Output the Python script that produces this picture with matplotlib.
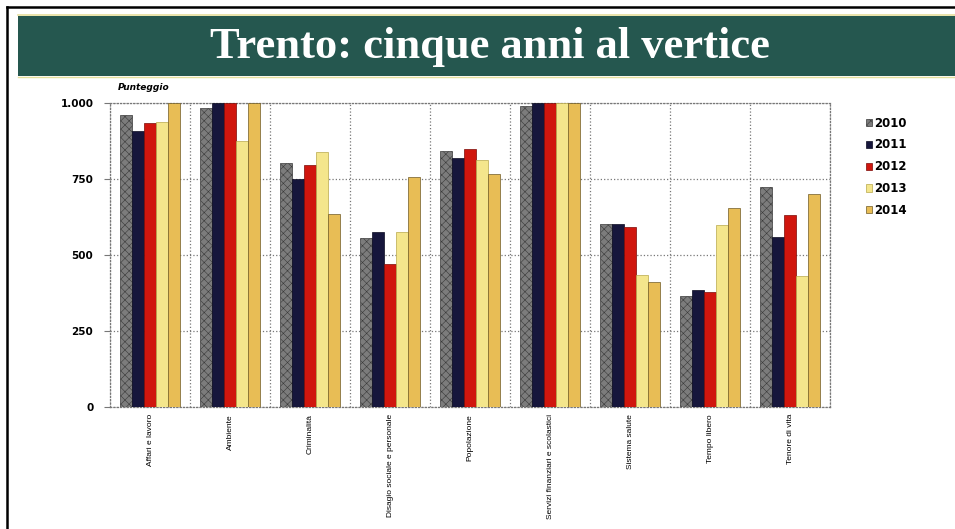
import numpy as np
import matplotlib.pyplot as plt
from matplotlib.patches import Rectangle
from matplotlib.lines import Line2D

categories = ["Affari e lavoro", "Ambiente", "Criminalità",
              "Disagio sociale e personale", "Popolazione",
              "Servizi finanziari e scolastici", "Sistema salute",
              "Tempo libero", "Tenore di vita"]
years = ["2010", "2011", "2012", "2013", "2014"]

v2010 = [962, 984, 804, 557, 841, 991, 601, 366, 723]
v2011 = [907, 1000, 749, 575, 819, 1000, 601, 385, 560]
v2012 = [934, 1000, 797, 470, 848, 1000, 593, 377, 632]
v2013 = [937, 874, 838, 577, 813, 1000, 434, 599, 431]
v2014 = [1000, 1000, 635, 756, 767, 1000, 412, 654, 701]
series = [v2010, v2011, v2012, v2013, v2014]

face = ["#7c7c7c", "#16163c", "#d0160e", "#f4e68c", "#e8bd55"]
edge = ["#3a3a3a", "#0a0a20", "#7a0a06", "#b8a84a", "#6e5a26"]
hatch = ["xxxx", None, None, None, None]

plt.rcParams["hatch.linewidth"] = 0.4

fig = plt.figure(figsize=(9.55, 5.29), dpi=100)
W, H = 955, 529

# cornice e banda del titolo
fig.add_artist(Line2D([7 / W, 1], [1 - 7 / H, 1 - 7 / H], color="black", lw=1.8))
fig.add_artist(Line2D([7 / W, 7 / W], [0, 1 - 7 / H], color="black", lw=1.8))
fig.add_artist(Rectangle((18 / W, 1 - 76 / H), 1 - 18 / W, 60 / H,
                         facecolor="#25574f", edgecolor="none"))
fig.add_artist(Line2D([18 / W, 1], [1 - 15 / H, 1 - 15 / H], color="#e6df9c", lw=1.2))
fig.add_artist(Line2D([18 / W, 1], [1 - 77 / H, 1 - 77 / H], color="#e6df9c", lw=1.0))
fig.text(490 / W, 1 - 47 / H, "Trento: cinque anni al vertice",
         ha="center", va="center", color="white", fontsize=32,
         fontweight="bold", family="Liberation Serif")

ax = fig.add_axes([110 / W, 1 - 407 / H, 720 / W, 304 / H])

x = np.arange(len(categories))
bw = 0.15
for i, vals in enumerate(series):
    ax.bar(x + (i - 2) * bw, vals, width=bw, color=face[i],
           edgecolor=edge[i], linewidth=0.5, hatch=hatch[i],
           label=years[i], zorder=3)

ax.set_xlim(-0.5, len(categories) - 0.5)
ax.set_ylim(0, 1000)
ax.set_yticks([0, 250, 500, 750, 1000])
ax.set_yticklabels(["0", "250", "500", "750", "1.000"],
                   fontsize=7.5, fontweight="bold")
ax.set_xticks(x)
ax.set_xticklabels(categories, rotation=90, fontsize=6,
                   family="Liberation Sans")
ax.set_xticks(np.arange(len(categories) + 1) - 0.5, minor=True)
ax.tick_params(axis="x", which="both", length=0, pad=5)
ax.tick_params(axis="y", length=4, pad=8, color="#777777")
ax.grid(axis="y", which="major", linestyle=":", color="#777777", lw=0.9, zorder=0)
ax.grid(axis="x", which="minor", linestyle=":", color="#777777", lw=0.9, zorder=0)
for s in ax.spines.values():
    s.set_linestyle(":")
    s.set_color("#777777")
    s.set_linewidth(0.9)

fig.text(118 / W, 1 - 88 / H, "Punteggio", fontsize=6.5,
         fontweight="bold", style="italic", va="center")

fig.legend(loc="upper left", bbox_to_anchor=(855 / W, 1 - 106 / H),
           frameon=False, handlelength=0.55, handleheight=0.55,
           handletextpad=0.2, labelspacing=0.75,
           prop={"weight": "bold", "size": 8.5})

fig.savefig("out.png", dpi=100)
